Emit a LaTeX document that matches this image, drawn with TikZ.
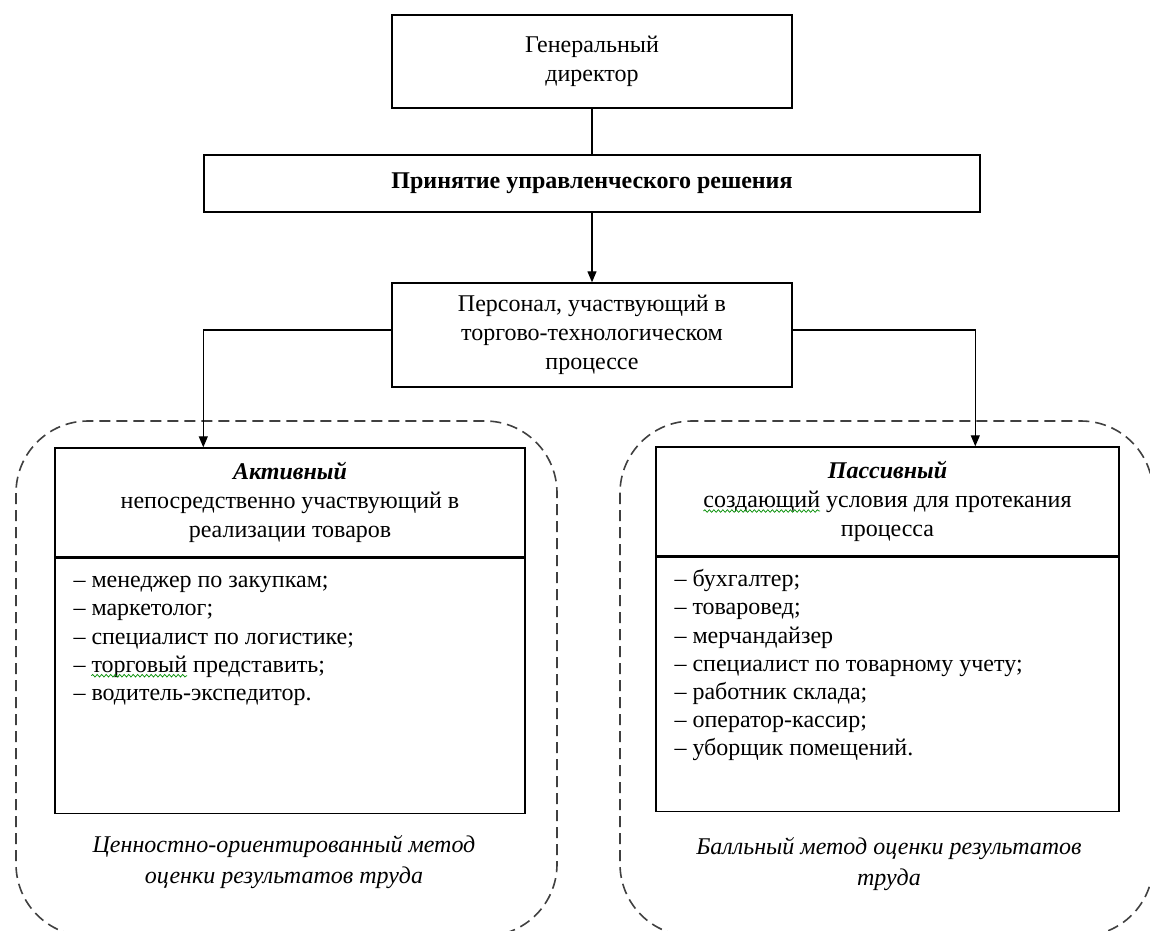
\documentclass[tikz,border=0pt]{standalone}
\usepackage{fontspec}
\setmainfont{Liberation Serif}
\usetikzlibrary{arrows.meta,positioning,decorations.pathmorphing}

\newlength\dashW
\newlength\wordA
\newlength\lineB
\newlength\wordB
\settowidth\dashW{\fontsize{24}{28}\selectfont – }
\settowidth\wordA{\fontsize{24}{28}\selectfont торговый}
\settowidth\lineB{\fontsize{24}{28}\selectfont создающий условия для протекания}
\settowidth\wordB{\fontsize{24}{28}\selectfont создающий}

\tikzset{
  box/.style={draw,line width=1.4pt,rectangle,align=center,inner sep=0pt,font=\fontsize{24}{29}\selectfont},
  listtext/.style={align=left,inner sep=0pt,anchor=north west,font=\fontsize{24}{28.2}\selectfont},
  note/.style={align=center,inner sep=0pt,font=\fontsize{24}{31}\selectfont\itshape},
  frame/.style={draw=black!75,line width=1.6pt,dash pattern=on 11pt off 6pt,rounded corners=72pt},
  link/.style={line width=1.2pt},
  arr/.style={link,-{Triangle[length=11pt,width=9pt]}},
  spell/.style={draw=green!55!black,line width=0.7pt,decorate,decoration={snake,amplitude=1.3pt,segment length=4.5pt}}
}

\begin{document}
\begin{tikzpicture}[x=1pt,y=-1pt]
\useasboundingbox (0,0) rectangle (1150,930);
\clip (0,0) rectangle (1150,930);

% dashed frames
\draw[frame] (16,421) rectangle (557,936);
\draw[frame] (620,421) rectangle (1153,936);

\node[box,minimum width=400pt,minimum height=93pt] (gendir) at (592,61.5) {Генеральный\\директор};
\node[box,minimum width=776pt,minimum height=57pt,font=\fontsize{24}{29}\selectfont\bfseries] (decis) at (592,183.5) {Принятие управленческого решения};
\node[box,minimum width=400pt,minimum height=104pt] (persnl) at (592,335) {Персонал, участвующий в\\торгово-технологическом\\процессе};

\node[box,minimum width=470pt,minimum height=109pt] (actHead) at (290,502.5) {\textbf{\textit{Активный}}\\непосредственно участвующий в\\реализации товаров};
\node[box,minimum width=470pt,minimum height=255pt,anchor=north] (actList) at (actHead.south) {};
\node[listtext,below right=10pt and 19pt of actHead.south west] (actItems) {\strut– менеджер по закупкам;\\– маркетолог;\\– специалист по логистике;\\– торговый представить;\\– водитель-экспедитор.};

\node[box,minimum width=463pt,minimum height=109pt] (pasHead) at (887.5,501.5) {\textbf{\textit{Пассивный}}\\создающий условия для протекания\\процесса};
\node[box,minimum width=463pt,minimum height=254pt,anchor=north] (pasList) at (pasHead.south) {};
\node[listtext,below right=10pt and 19pt of pasHead.south west] (pasItems) {\strut– бухгалтер;\\– товаровед;\\– мерчандайзер\\– специалист по товарному учету;\\– работник склада;\\– оператор-кассир;\\– уборщик помещений.};

\node[note] (actNote) at (284,862) {Ценностно-ориентированный метод\\оценки результатов труда};
\node[note] (pasNote) at (889,864) {Балльный метод оценки результатов\\труда};

% connectors
\draw[link] (gendir.south -| decis.north) -- (decis.north);
\draw[arr] (decis.south) -- (persnl.north);
\draw[arr] ([yshift=5pt]persnl.west) -| ([xshift=149pt]actHead.north west);
\draw[arr] ([yshift=5pt]persnl.east) -| ([xshift=320pt]pasHead.north west);

% spell check marks
\draw[spell] ([xshift=\dashW,yshift=-108pt]actItems.north west) -- ++(\wordA,0);
\draw[spell] ([xshift=-0.5\lineB,yshift=-9.5pt]pasHead.center) -- ++(\wordB,0);
\end{tikzpicture}
\end{document}
